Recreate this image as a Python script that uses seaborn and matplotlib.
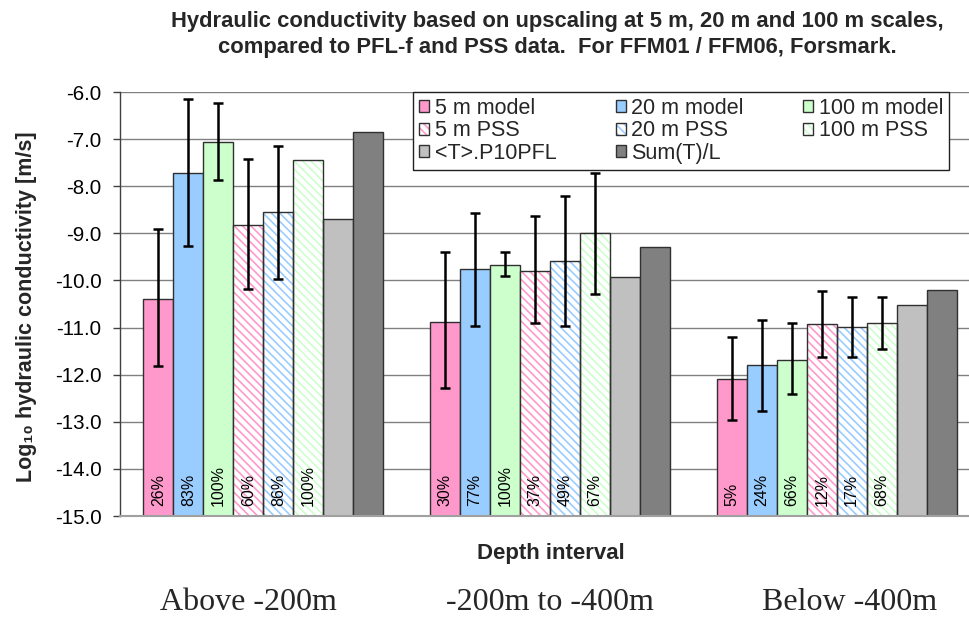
import numpy as np
import pandas as pd
import matplotlib
matplotlib.use("Agg")
import matplotlib.pyplot as plt
import seaborn as sns
from matplotlib.patches import Patch, Rectangle
from matplotlib.legend_handler import HandlerTuple

# ---------------- data ----------------
categories = ["Above -200m", "-200m to -400m", "Below -400m"]
series = ["5 m model", "20 m model", "100 m model", "5 m PSS", "20 m PSS",
          "100 m PSS", "<T>.P10PFL", "Sum(T)/L"]

k_5m_model = [-10.39, -10.89, -12.09]
k_20m_model = [-7.71, -9.76, -11.79]
k_100m_model = [-7.06, -9.67, -11.68]
k_5m_pss = [-8.83, -9.79, -10.92]
k_20m_pss = [-8.55, -9.58, -10.99]
k_100m_pss = [-7.44, -9.00, -10.90]
k_p10pfl = [-8.70, -9.92, -10.53]
k_sum_t_l = [-6.85, -9.29, -10.20]

upper_5m_model = [-8.90, -9.40, -11.20]
upper_20m_model = [-6.15, -8.57, -10.83]
upper_100m_model = [-6.23, -9.40, -10.91]
upper_5m_pss = [-7.43, -8.64, -10.23]
upper_20m_pss = [-7.14, -8.20, -10.36]
upper_100m_pss = [np.nan, -7.72, -10.36]

lower_5m_model = [-11.82, -12.29, -12.97]
lower_20m_model = [-9.26, -10.96, -12.77]
lower_100m_model = [-7.87, -9.91, -12.41]
lower_5m_pss = [-10.18, -10.91, -11.63]
lower_20m_pss = [-9.97, -10.96, -11.63]
lower_100m_pss = [np.nan, -10.29, -11.46]

pct_5m_model = [26, 30, 5]
pct_20m_model = [83, 77, 24]
pct_100m_model = [100, 100, 66]
pct_5m_pss = [60, 37, 12]
pct_20m_pss = [86, 49, 17]
pct_100m_pss = [100, 67, 68]

y_ticks = [-15.0, -14.0, -13.0, -12.0, -11.0, -10.0, -9.0, -8.0, -7.0, -6.0]
y_base = -15.0

values = [k_5m_model, k_20m_model, k_100m_model, k_5m_pss, k_20m_pss,
          k_100m_pss, k_p10pfl, k_sum_t_l]
uppers = [upper_5m_model, upper_20m_model, upper_100m_model,
          upper_5m_pss, upper_20m_pss, upper_100m_pss]
lowers = [lower_5m_model, lower_20m_model, lower_100m_model,
          lower_5m_pss, lower_20m_pss, lower_100m_pss]
pcts = [pct_5m_model, pct_20m_model, pct_100m_model,
        pct_5m_pss, pct_20m_pss, pct_100m_pss]

colors = ["#FF99CC", "#99CCFF", "#CCFFCC", "#FF99CC", "#99CCFF", "#CCFFCC",
          "#C0C0C0", "#808080"]
hatched = [False, False, False, True, True, True, False, False]
EDGE = "#303030"
HATCH = "\\\\\\\\"
cat_label_dx_pt = [-11, 0, 9]   # small horizontal nudges of category captions

rows = []
for s, vals in zip(series, values):
    for c, v in zip(categories, vals):
        rows.append({"category": c, "series": s, "value": v, "height": v - y_base})
df = pd.DataFrame(rows)

# ---------------- figure ----------------
sns.set_theme(style="white")
plt.rcParams["font.family"] = ["Liberation Sans", "DejaVu Sans"]
plt.rcParams["hatch.linewidth"] = 1.2

fig = plt.figure(figsize=(9.70, 6.18), dpi=100)
L, R, B, T = 120, 970, 516, 92
W, H = 970, 618
ax = fig.add_axes([L / W, 1 - B / H, (R - L) / W, (B - T) / H])

sns.barplot(data=df, x="category", y="height", hue="series", order=categories,
            hue_order=series, palette=colors, saturation=1, width=0.837,
            bottom=y_base, edgecolor=EDGE, linewidth=1, errorbar=None,
            legend=False, ax=ax)

ax.set_ylim(y_base, -6.0)
ax.set_xlim(-0.5, -0.5 + (R - L) / 286.7)
ax.set_axisbelow(True)
ax.yaxis.grid(True, color="#808080", linewidth=1)
ax.xaxis.grid(False)

bar_containers = list(ax.containers)
for i, cont in enumerate(bar_containers):
    for j, bar in enumerate(cont.patches):
        xc = bar.get_x() + bar.get_width() / 2
        if hatched[i]:
            bar.set_facecolor("white")
            bar.set_edgecolor(colors[i])
            bar.set_hatch(HATCH)
            bar.set_linewidth(0)
            ax.add_patch(Rectangle(bar.get_xy(), bar.get_width(), bar.get_height(),
                                   fill=False, edgecolor=EDGE, linewidth=1,
                                   zorder=bar.get_zorder() + 0.1))
        if i < 6:
            v = values[i][j]
            up, lo = uppers[i][j], lowers[i][j]
            if not np.isnan(up):
                ax.errorbar([xc], [v], yerr=[[v - lo], [up - v]], fmt="none",
                            ecolor="black", elinewidth=1.8, capsize=3.6,
                            capthick=1.8, zorder=6)
            ax.annotate(f"{pcts[i][j]}%", xy=(xc, y_base), xytext=(0, 7),
                        textcoords="offset points", rotation=90, ha="center",
                        va="bottom", fontsize=11.5, color="black", zorder=7)

ax.set_yticks(y_ticks)
ax.set_yticklabels([f"{t:.1f}" for t in y_ticks])
ax.tick_params(axis="y", left=True, length=4.7, width=1, color="#404040",
               pad=8.5, labelsize=14.8, labelcolor="black")
ax.tick_params(axis="x", bottom=False, length=0, labelbottom=False)
ax.set_xlabel("")
ax.set_ylabel("")

# category captions under the axis (below the axis title, as in the reference)
for k, cat in enumerate(categories):
    ax.annotate(cat, xy=(k, 0), xycoords=("data", "axes fraction"),
                xytext=(cat_label_dx_pt[k], -68), textcoords="offset points",
                ha="center", va="baseline", fontsize=23,
                family=["Liberation Serif", "DejaVu Serif"], annotation_clip=False)

for s in ["top", "right"]:
    ax.spines[s].set_visible(False)
ax.spines["left"].set_color("#404040")
ax.spines["left"].set_linewidth(1)
ax.spines["bottom"].set_color("#A0A0A0")
ax.spines["bottom"].set_linewidth(1.5)

# legend
handles = []
for i in range(8):
    if hatched[i]:
        h = (Patch(facecolor="white", edgecolor=colors[i], hatch=HATCH, linewidth=0),
             Patch(facecolor="none", edgecolor=EDGE, linewidth=1))
    else:
        h = Patch(facecolor=colors[i], edgecolor=EDGE, linewidth=1)
    handles.append(h)
order = [0, 3, 6, 1, 4, 7, 2, 5]
leg = ax.legend([handles[k] for k in order], [series[k] for k in order],
                ncol=3, loc="upper left",
                bbox_to_anchor=((413 - L) / (R - L), 1.0),
                borderaxespad=0, frameon=True, fancybox=False, framealpha=1,
                edgecolor="#202020", fontsize=15.5, handlelength=0.48,
                handleheight=0.48, handletextpad=0.25, columnspacing=2.75,
                labelspacing=0.06, borderpad=0.28,
                handler_map={tuple: HandlerTuple(ndivide=1)})
leg.get_frame().set_linewidth(1)

# text
title_font = ["Liberation Sans", "DejaVu Sans"]
fig.text(557 / W, 1 - 21 / H,
         "Hydraulic conductivity based on upscaling at 5 m, 20 m and 100 m scales,",
         ha="center", va="center", fontsize=15.8, fontweight="bold", family=title_font)
fig.text(557 / W, 1 - 48 / H,
         "compared to PFL-f and PSS data.  For FFM01 / FFM06, Forsmark.",
         ha="center", va="center", fontsize=15.8, fontweight="bold", family=title_font)
fig.text(27 / W, 1 - 307 / H, "Log\u2081\u2080 hydraulic conductivity [m/s]",
         rotation=90, ha="center", va="center", fontsize=15.5, fontweight="bold",
         family=["Liberation Sans", "DejaVu Sans"])
fig.text(551 / W, 1 - 553 / H, "Depth interval", ha="center", va="center",
         fontsize=16, fontweight="bold")

fig.savefig("out.png", dpi=100)
